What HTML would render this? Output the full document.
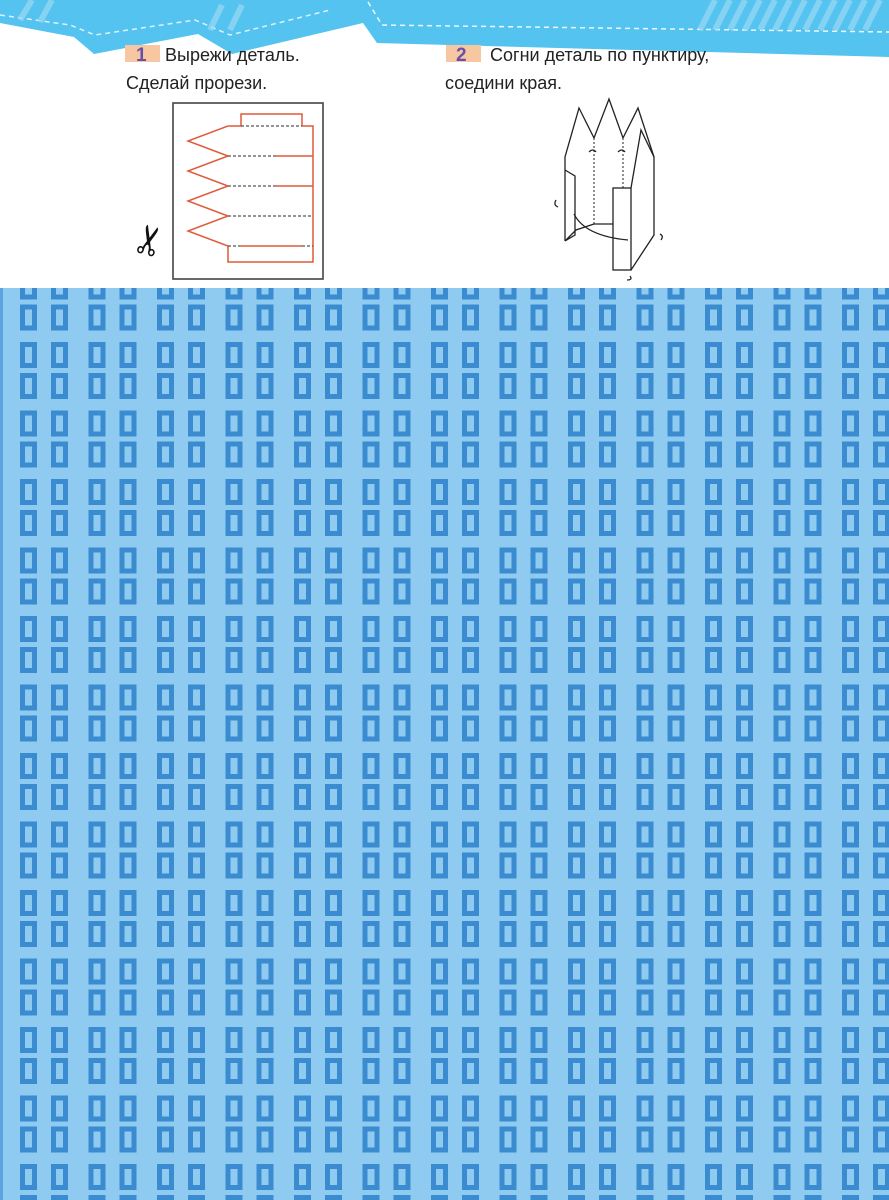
<!DOCTYPE html>
<html><head><meta charset="utf-8"><style>
html,body{margin:0;padding:0;background:#fff;width:889px;height:1200px;overflow:hidden;}
svg{display:block}
</style></head><body>
<svg width="889" height="1200" viewBox="0 0 889 1200" xmlns="http://www.w3.org/2000/svg">
<defs>
<pattern id="win" patternUnits="userSpaceOnUse" x="20" y="342" width="68.5" height="68.5">
<rect x="0" y="0" width="17" height="26" fill="#3a8bd0"/>
<rect x="5" y="5" width="7" height="16" fill="#8fcbf0"/>
<rect x="31" y="0" width="17" height="26" fill="#3a8bd0"/>
<rect x="36" y="5" width="7" height="16" fill="#8fcbf0"/>
<rect x="0" y="31" width="17" height="26" fill="#3a8bd0"/>
<rect x="5" y="36" width="7" height="16" fill="#8fcbf0"/>
<rect x="31" y="31" width="17" height="26" fill="#3a8bd0"/>
<rect x="36" y="36" width="7" height="16" fill="#8fcbf0"/>
</pattern>
</defs>
<polygon points="0,0 889,0 889,57 377,43 363,23 232,54 198,34 94,54 74,37 0,23" fill="#55c3ef"/>
<polyline points="0,15 70,25 95,35 195,20 230,35 330,10" fill="none" stroke="#fff" stroke-width="1.5" stroke-dasharray="5,4" opacity="0.8"/>
<polyline points="368,2 382,25 889,32" fill="none" stroke="#fff" stroke-width="1.5" stroke-dasharray="5,4" opacity="0.9"/>
<g stroke="#9ad9f5" stroke-width="6" opacity="0.7">
<line x1="700" y1="30" x2="715" y2="0"/><line x1="715" y1="30" x2="730" y2="0"/><line x1="730" y1="30" x2="745" y2="0"/><line x1="745" y1="30" x2="760" y2="0"/><line x1="760" y1="30" x2="775" y2="0"/><line x1="775" y1="30" x2="790" y2="0"/><line x1="790" y1="30" x2="805" y2="0"/><line x1="805" y1="30" x2="820" y2="0"/><line x1="820" y1="30" x2="835" y2="0"/><line x1="835" y1="30" x2="850" y2="0"/><line x1="850" y1="30" x2="865" y2="0"/><line x1="865" y1="30" x2="880" y2="0"/>
<line x1="20" y1="20" x2="32" y2="0"/><line x1="40" y1="22" x2="52" y2="0"/><line x1="210" y1="30" x2="222" y2="5"/><line x1="230" y1="30" x2="242" y2="5"/>
</g>
<rect x="125" y="45" width="35" height="17" fill="#f6c7a0"/>
<text x="136" y="61" font-family="Liberation Sans, sans-serif" font-size="19" font-weight="bold" fill="#6a4fa8">1</text>
<text x="165" y="61" font-family="Liberation Sans, sans-serif" font-size="18" fill="#222">Вырежи деталь.</text>
<text x="126" y="89" font-family="Liberation Sans, sans-serif" font-size="18" fill="#222">Сделай прорези.</text>
<rect x="446" y="45" width="35" height="17" fill="#f6c7a0"/>
<text x="456" y="61" font-family="Liberation Sans, sans-serif" font-size="19" font-weight="bold" fill="#6a4fa8">2</text>
<text x="490" y="61" font-family="Liberation Sans, sans-serif" font-size="18" fill="#222">Согни деталь по пунктиру,</text>
<text x="445" y="89" font-family="Liberation Sans, sans-serif" font-size="18" fill="#222">соедини края.</text>
<rect x="173" y="103" width="150" height="176" fill="#fff" stroke="#444" stroke-width="1.6"/>
<polyline points="228,126 241,126 241,114 302,114 302,126 313,126 313,262 228,262 228,246 188,231 228,216 188,201 228,186 188,171 228,156 188,141 228,126" fill="none" stroke="#e05a3a" stroke-width="1.5"/>
<g stroke="#555" stroke-width="1.2" stroke-dasharray="3,2">
<line x1="241" y1="126" x2="302" y2="126"/>
<line x1="228" y1="156" x2="276" y2="156"/><line x1="228" y1="186" x2="276" y2="186"/>
<line x1="228" y1="216" x2="313" y2="216"/><line x1="228" y1="246" x2="240" y2="246"/><line x1="302" y1="246" x2="313" y2="246"/>
</g>
<g stroke="#e05a3a" stroke-width="1.5"><line x1="276" y1="156" x2="313" y2="156"/><line x1="276" y1="186" x2="313" y2="186"/><line x1="240" y1="246" x2="302" y2="246"/></g>
<text x="0" y="0" font-family="DejaVu Sans, sans-serif" font-size="40" fill="#111" text-anchor="middle" transform="translate(163,244) rotate(-75)">✂</text>
<g fill="none" stroke="#222" stroke-width="1.3">
<polyline points="565,241 565,157 579,108 594,138 609,99 623,138 638,108 654,157 654,235 631,270"/>
<rect x="613" y="188" width="18" height="82" fill="#fff"/>
<polyline points="631,188 641,130 654,157"/>
<line x1="594" y1="224" x2="613" y2="224"/>
<polyline points="565,170 575,176 575,235 565,241 576,230 594,224"/>
<path d="M574,214 Q585,236 628,240"/>
<path d="M589,152 q4,-4 7,0 M618,152 q4,-4 7,0 M556,200 q-3,5 2,7 M660,234 q4,2 1,6 M630,276 q3,4 -3,4"/>
</g>
<g stroke="#222" stroke-width="1" stroke-dasharray="2,2"><line x1="594" y1="138" x2="594" y2="224"/><line x1="623" y1="138" x2="623" y2="188"/></g>
<rect x="0" y="288" width="889" height="912" fill="#8fcbf0"/>
<rect x="0" y="288" width="889" height="912" fill="url(#win)"/>
<rect x="0" y="288" width="3" height="912" fill="#5aa6dc"/>
</svg>
</body></html>
